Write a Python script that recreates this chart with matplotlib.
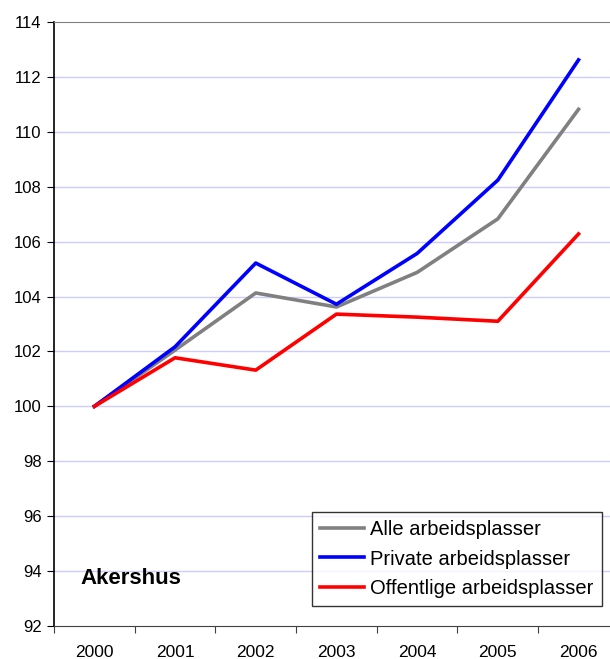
import numpy as np
import matplotlib
matplotlib.use("Agg")
import matplotlib.pyplot as plt

plt.rcParams['font.family'] = ['Liberation Sans', 'DejaVu Sans']

# Data (index 2000 = 100)
aar = ["2000", "2001", "2002", "2003", "2004", "2005", "2006"]
alle = [100.0, 102.05, 104.13, 103.62, 104.88, 106.83, 110.82]
private = [100.0, 102.17, 105.22, 103.72, 105.57, 108.24, 112.62]
offentlige = [100.0, 101.77, 101.32, 103.36, 103.25, 103.10, 106.28]

fig = plt.figure(figsize=(6.10, 6.59), dpi=100)
ax = fig.add_axes([54/610, 33/659, 1 - 54/610, (626-22)/659])

x = np.arange(len(aar))
ax.plot(x, alle, color='#808080', lw=2.6, label="Alle arbeidsplasser", zorder=3)
ax.plot(x, private, color='#0000ff', lw=2.6, label="Private arbeidsplasser", zorder=4)
ax.plot(x, offentlige, color='#ff0000', lw=2.6, label="Offentlige arbeidsplasser", zorder=5)

# category axis: ticks on the boundaries, labels in the middle
ax.set_xticks(np.arange(-0.5, 7, 1))
ax.set_xticklabels([])
ax.set_xticks(x, minor=True)
ax.set_xticklabels(aar, minor=True)
ax.set_xlim(-0.5, 6.39)
ax.set_yticks(np.arange(92, 115, 2))
ax.set_ylim(92, 114)

ax.tick_params(axis='x', which='minor', length=0, pad=14, labelsize=12.5)
ax.tick_params(axis='x', which='major', length=5, direction='out', color='#404040')
ax.tick_params(axis='y', length=5, direction='out', labelsize=12, pad=4)

for y in np.arange(94, 114, 2):
    ax.axhline(y, color='#ccccff', lw=1.0, zorder=1)

ax.spines['right'].set_visible(False)
ax.spines['top'].set_color('#808080')
ax.spines['bottom'].set_color('#404040')
ax.spines['left'].set_color('black')
ax.spines['left'].set_linewidth(1.2)

ax.text(0.048, 0.079, "Akershus", transform=ax.transAxes, fontsize=16,
        fontweight='bold', ha='left', va='center')

leg = ax.legend(loc='lower right', bbox_to_anchor=(0.985, 0.033), fontsize=14.5,
                frameon=True, fancybox=False, handlelength=2.2, handletextpad=0.3,
                borderpad=0.4, labelspacing=0.52, borderaxespad=0)
leg.get_frame().set_edgecolor('black')
leg.get_frame().set_linewidth(1.0)

fig.savefig("out.png", dpi=100)
